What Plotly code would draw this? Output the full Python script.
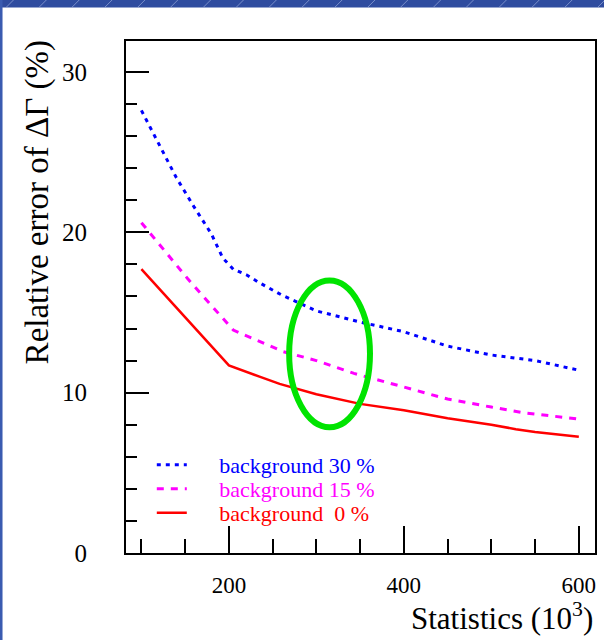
import plotly.graph_objects as go

# ---- data ----
blue_x = [100, 120, 140, 160, 180, 193, 205, 220, 235, 260, 300, 350, 400, 450, 500, 550, 600]
blue_y = [27.6, 25.5, 23.4, 21.6, 19.9, 18.4, 17.7, 17.35, 16.85, 16.1, 15.1, 14.4, 13.8, 12.9, 12.35, 12.0, 11.4]

mag_x = [100, 153, 205, 233, 262, 300, 343, 400, 450, 500, 535, 600]
mag_y = [20.6, 17.1, 13.9, 13.25, 12.56, 12.0, 11.2, 10.35, 9.6, 9.1, 8.76, 8.35]

red_x = [100, 200, 235, 258, 300, 350, 400, 450, 500, 528, 550, 600]
red_y = [17.7, 11.7, 11.0, 10.55, 9.9, 9.3, 8.9, 8.4, 8.0, 7.72, 7.55, 7.25]

names = ["background 30 %", "background 15 %", "background  0 %"]
colors = ["#0000ff", "#ff00ff", "#ff0000"]

x_ticks = [200, 400, 600]
y_ticks = [0, 10, 20, 30]

FONT = "Liberation Serif"
NB = "\u00a0"

fig = go.Figure()
fig.add_trace(go.Scatter(x=blue_x, y=blue_y, mode="lines", name=NB * 5 + names[0],
                         line=dict(color=colors[0], width=3, dash="4px,5px"), legend="legend"))
fig.add_trace(go.Scatter(x=mag_x, y=mag_y, mode="lines", name=NB * 5 + names[1],
                         line=dict(color=colors[1], width=3, dash="7px,7px"), legend="legend2"))
fig.add_trace(go.Scatter(x=red_x, y=red_y, mode="lines", name=NB * 5 + names[2].replace("  ", NB + NB),
                         line=dict(color=colors[2], width=2.5), legend="legend3"))

def leg(y, color):
    return dict(x=0.055, y=y, xanchor="left", yanchor="middle", bgcolor="rgba(0,0,0,0)",
                borderwidth=0, font=dict(family=FONT, size=22, color=color), itemwidth=30,
                tracegroupgap=0)

H = 512.0
def yp(py):
    return (553 - py) / H

shapes = []
# slide decoration: top blue bar and left strip
shapes.append(dict(type="rect", xref="paper", yref="paper", x0=-0.3, x1=1.1,
                   y0=yp(7.5), y1=yp(-5), fillcolor="#2f4c9f", line=dict(width=0), layer="below"))
shapes.append(dict(type="rect", xref="paper", yref="paper", x0=-0.3, x1=(2 - 126) / 471.0,
                   y0=yp(700), y1=yp(0), fillcolor="#3a5bb0", line=dict(width=0), layer="below"))
for k in range(20):
    x0 = (k * 33 - 120) / 471.0
    shapes.append(dict(type="line", xref="paper", yref="paper", x0=x0, x1=x0 + 7 / 471.0,
                       y0=yp(7), y1=yp(0), line=dict(color="rgba(180,195,235,0.55)", width=1)))
# green highlight ellipse
shapes.append(dict(type="circle", xref="x", yref="y", x0=268.9, x1=361.3, y0=7.84, y1=17.0,
                   line=dict(color="#00e400", width=6)))

fig.update_layout(
    width=604, height=640,
    margin=dict(l=126, r=7, t=41, b=87),
    paper_bgcolor="white", plot_bgcolor="white",
    font=dict(family=FONT, color="black"),
    showlegend=True,
    legend=leg(yp(465), colors[0]),
    legend2=leg(yp(489), colors[1]),
    legend3=leg(yp(513), colors[2]),
    shapes=shapes,
    annotations=[
        dict(text="Relative error of \u0394\u0393 (%)", textangle=-90, xref="paper", yref="paper",
             x=(37 - 126) / 471.0, y=yp(38), xanchor="center", yanchor="top", showarrow=False,
             font=dict(family=FONT, size=33, color="black")),
        dict(text="Statistics (10<sup>3</sup>)", xref="paper", yref="paper",
             x=1.0, y=yp(616), xanchor="right", yanchor="middle", showarrow=False,
             font=dict(family=FONT, size=31, color="black")),
    ],
)

fig.update_xaxes(range=[82.4, 618.5], tickmode="array", tickvals=x_ticks,
                 ticktext=[str(v) for v in x_ticks], ticks="inside", ticklen=27, tickwidth=2,
                 tickcolor="black", showline=True, linecolor="black", linewidth=2, mirror=True,
                 showgrid=False, zeroline=False, ticklabelstandoff=10,
                 tickfont=dict(family=FONT, size=23, color="black"),
                 minor=dict(tickmode="linear", tick0=0, dtick=50, ticks="inside", ticklen=14,
                            tickwidth=2, tickcolor="black", showgrid=False))
fig.update_yaxes(range=[0, 31.93], tickmode="array", tickvals=y_ticks,
                 ticktext=[str(v) for v in y_ticks], ticks="inside", ticklen=23, tickwidth=2,
                 tickcolor="black", showline=True, linecolor="black", linewidth=2, mirror=True,
                 showgrid=False, zeroline=False, ticklabelstandoff=32,
                 tickfont=dict(family=FONT, size=25, color="black"),
                 minor=dict(tickmode="linear", tick0=0, dtick=2, ticks="inside", ticklen=11,
                            tickwidth=2, tickcolor="black", showgrid=False))

fig.write_html("out.html")
